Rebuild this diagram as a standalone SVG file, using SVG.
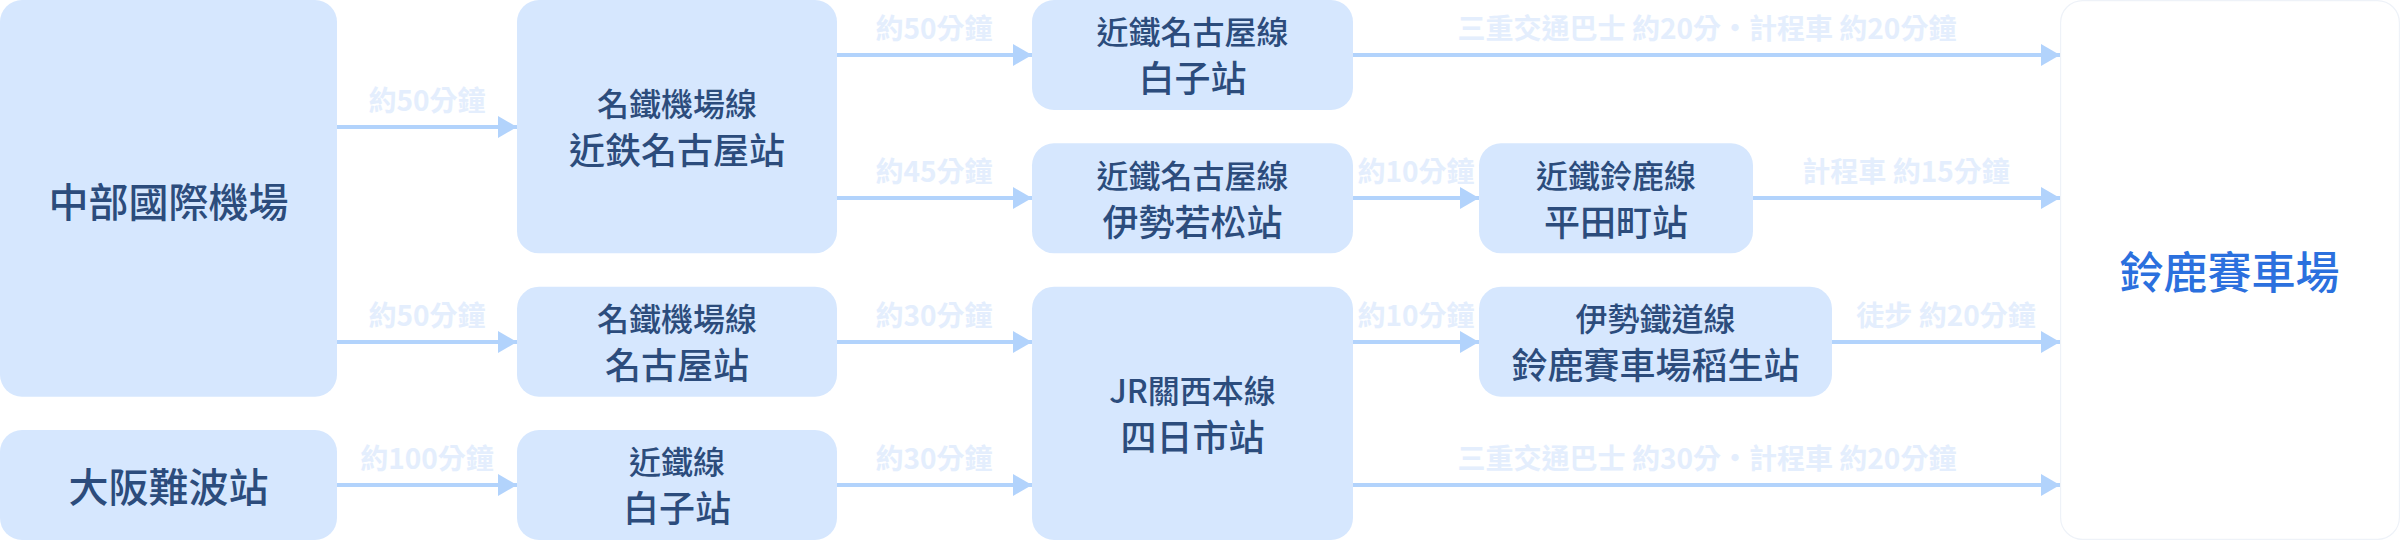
<svg xmlns="http://www.w3.org/2000/svg" width="2400" height="540" viewBox="0 0 2400 540">
<style>
.box{fill:#d6e7fe}
.end{fill:#ffffff;stroke:#eef2f8;stroke-width:1.2}
.t1{font-family:"Noto Sans CJK TC","Noto Sans CJK SC",sans-serif;font-size:32px;font-weight:500;fill:#2c4c7c;text-anchor:middle}
.t2{font-family:"Noto Sans CJK TC","Noto Sans CJK SC",sans-serif;font-size:36px;font-weight:500;fill:#2c4c7c;text-anchor:middle}
.tb{font-family:"Noto Sans CJK TC","Noto Sans CJK SC",sans-serif;font-size:40px;font-weight:500;fill:#2c4c7c;text-anchor:middle}
.tt{font-family:"Noto Sans CJK TC","Noto Sans CJK SC",sans-serif;font-size:44px;font-weight:500;fill:#2b70de;text-anchor:middle}
.lbl{font-family:"Noto Sans CJK TC","Noto Sans CJK SC",sans-serif;font-size:28px;font-weight:700;fill:#e4eefd;text-anchor:middle}
.ln{stroke:#b2d3fc;stroke-width:4;fill:none;marker-end:url(#ah)}
</style>
<defs>
<marker id="ah" markerUnits="userSpaceOnUse" markerWidth="19" markerHeight="22" refX="19" refY="11" orient="auto">
<path d="M0,0 L19,11 L0,22 z" fill="#b2d3fc"/>
</marker>
</defs>
<g id="connectors">
<path class="ln" d="M337,127 H517"/>
<text class="lbl" x="427" y="111">約50分鐘</text>
<path class="ln" d="M337,342 H517"/>
<text class="lbl" x="427" y="326">約50分鐘</text>
<path class="ln" d="M337,485 H517"/>
<text class="lbl" x="427" y="469">約100分鐘</text>
<path class="ln" d="M837,55 H1032"/>
<text class="lbl" x="934" y="39">約50分鐘</text>
<path class="ln" d="M837,198 H1032"/>
<text class="lbl" x="934" y="182">約45分鐘</text>
<path class="ln" d="M837,342 H1032"/>
<text class="lbl" x="934" y="326">約30分鐘</text>
<path class="ln" d="M837,485 H1032"/>
<text class="lbl" x="934" y="469">約30分鐘</text>
<path class="ln" d="M1353,55 H2060"/>
<text class="lbl" x="1707" y="39">三重交通巴士 約20分・計程車 約20分鐘</text>
<path class="ln" d="M1353,198 H1479"/>
<text class="lbl" x="1416" y="182">約10分鐘</text>
<path class="ln" d="M1753,198 H2060"/>
<text class="lbl" x="1906" y="182">計程車 約15分鐘</text>
<path class="ln" d="M1353,342 H1479"/>
<text class="lbl" x="1416" y="326">約10分鐘</text>
<path class="ln" d="M1832,342 H2060"/>
<text class="lbl" x="1946" y="326">徒步 約20分鐘</text>
<path class="ln" d="M1353,485 H2060"/>
<text class="lbl" x="1707" y="469">三重交通巴士 約30分・計程車 約20分鐘</text>
</g>
<g id="chubu">
<rect class="box" x="0" y="0" width="337" height="396.7" rx="22"/>
<text class="tb" x="168.5" y="217">中部國際機場</text>
</g>
<g id="namba">
<rect class="box" x="0" y="430" width="337" height="110" rx="22"/>
<text class="tb" x="168.5" y="502">大阪難波站</text>
</g>
<g id="kintetsu-nagoya">
<rect class="box" x="517" y="0" width="320" height="253.3" rx="22"/>
<text class="t1" x="677" y="116">名鐵機場線</text>
<text class="t2" x="677" y="164">近鉄名古屋站</text>
</g>
<g id="meitetsu-nagoya">
<rect class="box" x="517" y="286.7" width="320" height="110" rx="22"/>
<text class="t1" x="677" y="331">名鐵機場線</text>
<text class="t2" x="677" y="379">名古屋站</text>
</g>
<g id="kintetsu-line">
<rect class="box" x="517" y="430" width="320" height="110" rx="22"/>
<text class="t1" x="677" y="474">近鐵線</text>
<text class="t2" x="677" y="522">白子站</text>
</g>
<g id="shiroko">
<rect class="box" x="1032" y="0" width="321" height="110" rx="22"/>
<text class="t1" x="1192.5" y="44">近鐵名古屋線</text>
<text class="t2" x="1192.5" y="92">白子站</text>
</g>
<g id="ise-wakamatsu">
<rect class="box" x="1032" y="143.3" width="321" height="110" rx="22"/>
<text class="t1" x="1192.5" y="188">近鐵名古屋線</text>
<text class="t2" x="1192.5" y="236">伊勢若松站</text>
</g>
<g id="yokkaichi">
<rect class="box" x="1032" y="286.7" width="321" height="253.3" rx="22"/>
<text class="t1" x="1192.5" y="403">JR關西本線</text>
<text class="t2" x="1192.5" y="451">四日市站</text>
</g>
<g id="hiratacho">
<rect class="box" x="1479" y="143.3" width="274" height="110" rx="22"/>
<text class="t1" x="1616" y="188">近鐵鈴鹿線</text>
<text class="t2" x="1616" y="236">平田町站</text>
</g>
<g id="inou">
<rect class="box" x="1479" y="286.7" width="353" height="110" rx="22"/>
<text class="t1" x="1655.5" y="331">伊勢鐵道線</text>
<text class="t2" x="1655.5" y="379">鈴鹿賽車場稻生站</text>
</g>
<g id="suzuka">
<rect class="end" x="2060.6" y="0.6" width="338.8" height="538.8" rx="22"/>
<text class="tt" x="2229.5" y="289">鈴鹿賽車場</text>
</g>
</svg>
